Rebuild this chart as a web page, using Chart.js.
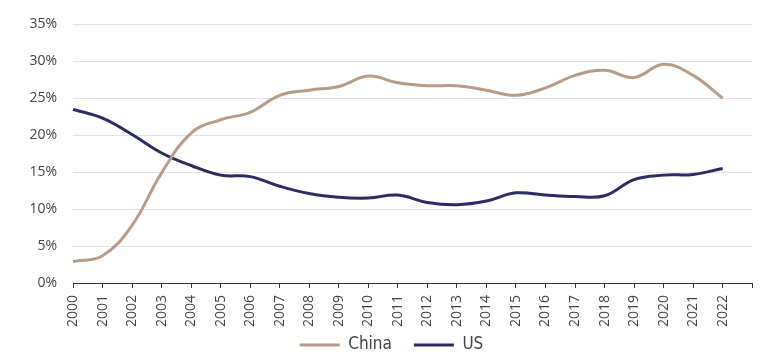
<!DOCTYPE html>
<html>
<head>
<meta charset="utf-8">
<script src="https://cdn.jsdelivr.net/npm/chart.js@4/dist/chart.umd.min.js"></script>
<style>
  html, body { margin: 0; padding: 0; background: #ffffff; }
  #wrap { width: 776px; height: 357px; position: relative; }
</style>
</head>
<body>
<div id="wrap"><canvas id="c" width="776" height="357"></canvas></div>
<script>
const years = ['2000','2001','2002','2003','2004','2005','2006','2007','2008','2009','2010','2011','2012','2013','2014','2015','2016','2017','2018','2019','2020','2021','2022',''];
const china = [2.9, 3.7, 7.8, 14.9, 20.3, 22.1, 23.1, 25.4, 26.1, 26.6, 28.0, 27.1, 26.7, 26.7, 26.1, 25.4, 26.4, 28.1, 28.8, 27.8, 29.6, 28.1, 25.0, null];
const us    = [23.5, 22.3, 20.1, 17.6, 15.9, 14.6, 14.4, 13.1, 12.1, 11.6, 11.5, 11.9, 10.9, 10.6, 11.1, 12.2, 11.9, 11.7, 11.8, 14.0, 14.6, 14.7, 15.5, null];
const yTicks = [0, 5, 10, 15, 20, 25, 30, 35];

const chinaColor = '#b89c89';
const usColor = '#2b2c63';

const shiftLegend = {
  id: 'shiftLegend',
  afterLayout(chart) {
    const lg = chart.legend;
    if (lg) {
      lg.left += 14; lg.right += 14;
      lg.top -= 14.5;
      lg.bottom = chart.height;
      lg.height = lg.bottom - lg.top;
    }
  }
};

new Chart(document.getElementById('c'), {
  type: 'line',
  data: {
    labels: years,
    datasets: [
      { label: 'China', data: china, borderColor: chinaColor, backgroundColor: chinaColor, borderWidth: 3, pointRadius: 0, tension: 0.4, fill: false },
      { label: 'US', data: us, borderColor: usColor, backgroundColor: usColor, borderWidth: 3, pointRadius: 0, tension: 0.4, fill: false }
    ]
  },
  plugins: [shiftLegend],
  options: {
    responsive: false,
    animation: false,
    layout: { padding: { left: 0, right: 21, top: 17, bottom: 0 } },
    plugins: {
      tooltip: { enabled: false },
      legend: {
        position: 'bottom',
        maxHeight: 28,
        labels: {
          color: '#444',
          font: { family: "'Liberation Sans Narrow', 'DejaVu Sans Condensed', 'Open Sans', sans-serif", size: 17 },
          boxWidth: 40,
          boxHeight: 3,
          padding: 22,
          generateLabels: chart => Chart.defaults.plugins.legend.labels.generateLabels(chart).map(l => Object.assign({}, l, { lineWidth: 0 }))
        }
      }
    },
    scales: {
      x: {
        offset: false,
        grid: { drawOnChartArea: false, drawTicks: true, tickLength: 5, tickColor: '#333', tickWidth: 1 },
        border: { display: true, color: '#333', width: 1 },
        ticks: {
          autoSkip: false, minRotation: 90, maxRotation: 90, padding: 7,
          color: '#444', font: { family: "'Open Sans', sans-serif", size: 14 }
        },
        afterFit: s => { s.height = 46; }
      },
      y: {
        min: 0, max: 35,
        afterBuildTicks: s => { s.ticks = yTicks.map(v => ({ value: v })); },
        grid: { color: '#e0e3e8', lineWidth: 1, drawTicks: false },
        border: { display: false },
        ticks: {
          padding: 16, color: '#444',
          font: { family: "'Open Sans', sans-serif", size: 14 },
          callback: v => v + '%'
        },
        afterFit: s => { s.width = 73; }
      }
    }
  }
});
</script>
</body>
</html>
